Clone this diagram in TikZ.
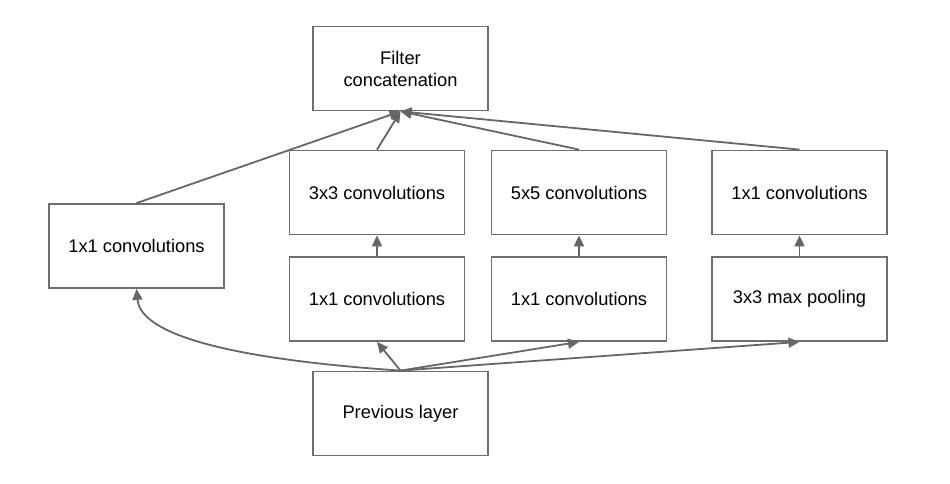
\documentclass[tikz,border=0pt]{standalone}
\usepackage{fontspec}
\setmainfont{Liberation Sans}
\usetikzlibrary{arrows.meta}
\definecolor{edge}{HTML}{666666}
\definecolor{boxline}{HTML}{6E6E6E}
\begin{document}
\begin{tikzpicture}[x=1pt,y=-1pt,
  blk/.style={draw=boxline,line width=1.8pt,fill=white,minimum width=175pt,minimum height=84pt,
    inner sep=0pt,font=\fontsize{18.3}{22}\selectfont,align=center,text=black},
  link/.style={draw=edge,line width=1.8pt,-{Triangle[length=11pt,width=10pt]}}]
\useasboundingbox (0,0) rectangle (950,483);
\node[blk] (concat) at (400.5,68.5) {Filter\\concatenation};
\node[blk] (c3) at (377,192.5) {3x3 convolutions};
\node[blk] (c5) at (579,192.5) {5x5 convolutions};
\node[blk] (cp) at (799.5,192.5) {1x1 convolutions};
\node[blk] (c1) at (136.5,246) {1x1 convolutions};
\node[blk] (r3) at (377,299) {1x1 convolutions};
\node[blk] (r5) at (579,299) {1x1 convolutions};
\node[blk] (pool) at (799.5,299) {3x3 max pooling};
\node[blk] (prev) at (400.5,413.5) {Previous layer};
% to concatenation
\draw[link] (c1.north) -- (concat.south);
\draw[link] (c3.north) -- (concat.south);
\draw[link] (c5.north) -- (concat.south);
\draw[link] (cp.north) -- (concat.south);
% inner
\draw[link] (r3.north) -- (c3.south);
\draw[link] (r5.north) -- (c5.south);
\draw[link] (pool.north) -- (cp.south);
% from previous
\draw[link] (prev.north) -- (r3.south);
\draw[link] (prev.north) -- (r5.south);
\draw[link] (prev.north) -- (pool.south);
\draw[link] (prev.north) .. controls (200,357) and (140,328) .. (c1.south);
\end{tikzpicture}
\end{document}
